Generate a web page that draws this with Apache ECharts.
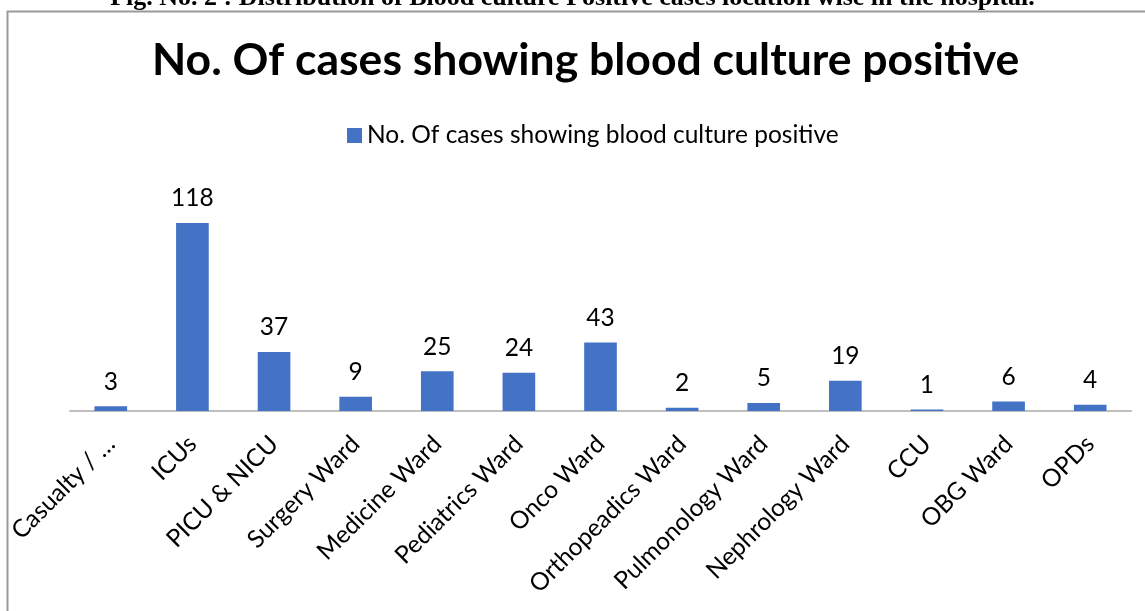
<!DOCTYPE html>
<html>
<head>
<meta charset="utf-8">
<script src="https://cdn.jsdelivr.net/npm/echarts@6/dist/echarts.min.js"></script>
<style>
  html, body { margin: 0; padding: 0; background: #fff; }
  #chart { width: 1145px; height: 611px; }
</style>
</head>
<body>
<div id="chart"></div>
<script>
// categories and values
const wards = ['Casualty / …', 'ICUs', 'PICU & NICU', 'Surgery Ward', 'Medicine Ward',
  'Pediatrics Ward', 'Onco Ward', 'Orthopeadics Ward', 'Pulmonology Ward',
  'Nephrology Ward', 'CCU', 'OBG Ward', 'OPDs'];
const cases = [3, 118, 37, 9, 25, 24, 43, 2, 5, 19, 1, 6, 4];
const seriesName = 'No. Of cases showing blood culture positive';

const chart = echarts.init(document.getElementById('chart'));
chart.setOption({
  animation: false,
  textStyle: { fontFamily: 'Lato' },
  graphic: [
    {
      // caption of the figure, cut off by the page top
      type: 'text', left: 'center', top: -15,
      style: {
        text: 'Fig. No. 2 : Distribution of Blood culture Positive cases location wise in the hospital.',
        font: 'bold 26px "Liberation Serif"', fill: '#000'
      }
    },
    {
      // outer frame (left + top only visible)
      type: 'polyline', silent: true,
      shape: { points: [[7.5, 620], [7.5, 11.5], [1160, 11.5]] },
      style: { stroke: '#9a9a9a', lineWidth: 2, fill: null }
    }
  ],
  title: {
    text: seriesName,
    left: 147, top: 33,
    textStyle: { fontFamily: 'Lato', fontWeight: 'bold', fontSize: 44.5, color: '#000' }
  },
  legend: {
    top: 118, left: 342,
    itemWidth: 15, itemHeight: 15,
    icon: 'rect',
    textStyle: { fontFamily: 'Lato', fontSize: 24.5, color: '#000' },
    data: [seriesName]
  },
  grid: { left: 70, right: 14, top: 188, bottom: 200 },
  xAxis: {
    type: 'category',
    data: wards,
    axisLine: { lineStyle: { color: '#bfbfbf', width: 2 } },
    axisTick: { show: false },
    axisLabel: {
      rotate: 45, interval: 0, margin: 29,
      fontFamily: 'Lato', fontSize: 24.5, color: '#000'
    }
  },
  yAxis: {
    type: 'value', min: 0, max: 140,
    show: false,
    splitLine: { show: false }
  },
  series: [{
    name: seriesName,
    type: 'bar',
    data: cases,
    barWidth: '40%',
    itemStyle: { color: '#4472C4' },
    label: {
      show: true, position: 'top', distance: 12,
      fontFamily: 'Lato', fontSize: 24.5, color: '#000'
    }
  }]
});
</script>
</body>
</html>
